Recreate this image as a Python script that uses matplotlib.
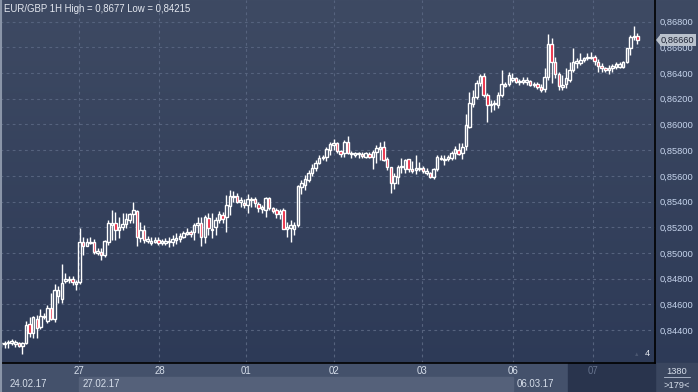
import numpy as np
import matplotlib
matplotlib.use("Agg")
import matplotlib.pyplot as plt
from matplotlib.colors import LinearSegmentedColormap
from matplotlib.patches import Polygon, Rectangle

plt.rcParams['font.family'] = ['Liberation Sans', 'DejaVu Sans']

# hourly EUR/GBP candles
opens = [
    0.84295, 0.84290, 0.84296, 0.84301, 0.84291, 0.84301, 0.84275, 0.84296, 0.84444, 0.84374,
    0.84483, 0.84421, 0.84500, 0.84473, 0.84574, 0.84483, 0.84665, 0.84644, 0.84785, 0.84790,
    0.84795, 0.84760, 0.84777, 0.85088, 0.85057, 0.85080, 0.85088, 0.85003, 0.85010, 0.84984,
    0.85088, 0.85218, 0.85231, 0.85179, 0.85200, 0.85226, 0.85257, 0.85304, 0.85330, 0.85114,
    0.85179, 0.85096, 0.85080, 0.85088, 0.85101, 0.85080, 0.85080, 0.85083, 0.85088, 0.85100,
    0.85106, 0.85126, 0.85147, 0.85165, 0.85165, 0.85217, 0.85235, 0.85126, 0.85274, 0.85178,
    0.85204, 0.85256, 0.85295, 0.85282, 0.85365, 0.85433, 0.85441, 0.85399, 0.85391, 0.85373,
    0.85412, 0.85417, 0.85381, 0.85339, 0.85334, 0.85425, 0.85347, 0.85334, 0.85303, 0.85334,
    0.85189, 0.85196, 0.85183, 0.85217, 0.85515, 0.85528, 0.85567, 0.85619, 0.85660, 0.85700,
    0.85740, 0.85749, 0.85801, 0.85840, 0.85853, 0.85791, 0.85775, 0.85866, 0.85767, 0.85765,
    0.85770, 0.85770, 0.85749, 0.85767, 0.85749, 0.85783, 0.85807, 0.85822, 0.85728, 0.85666,
    0.85542, 0.85591, 0.85666, 0.85651, 0.85728, 0.85651, 0.85643, 0.85653, 0.85661, 0.85625,
    0.85625, 0.85594, 0.85651, 0.85741, 0.85723, 0.85728, 0.85736, 0.85775, 0.85801, 0.85775,
    0.85832, 0.85983, 0.86159, 0.86216, 0.86325, 0.86377, 0.86229, 0.86151, 0.86166, 0.86151,
    0.86229, 0.86299, 0.86317, 0.86343, 0.86358, 0.86327, 0.86330, 0.86332, 0.86338, 0.86307,
    0.86312, 0.86294, 0.86273, 0.86371, 0.86623, 0.86483, 0.86390, 0.86294, 0.86317, 0.86345,
    0.86423, 0.86475, 0.86480, 0.86501, 0.86514, 0.86517, 0.86527, 0.86490, 0.86457, 0.86436,
    0.86421, 0.86436, 0.86449, 0.86449, 0.86449, 0.86488, 0.86592, 0.86683, 0.86691,
]
highs = [
    0.84310, 0.84315, 0.84322, 0.84327, 0.84322, 0.84310, 0.84310, 0.84470, 0.84504, 0.84510,
    0.84514, 0.84566, 0.84530, 0.84595, 0.84686, 0.84758, 0.84743, 0.84914, 0.84842, 0.84821,
    0.84821, 0.84790, 0.85192, 0.85127, 0.85114, 0.85127, 0.85106, 0.85036, 0.85036, 0.85101,
    0.85257, 0.85335, 0.85322, 0.85283, 0.85309, 0.85309, 0.85309, 0.85400, 0.85335, 0.85244,
    0.85218, 0.85132, 0.85127, 0.85122, 0.85122, 0.85106, 0.85113, 0.85126, 0.85139, 0.85157,
    0.85152, 0.85170, 0.85191, 0.85178, 0.85230, 0.85282, 0.85282, 0.85295, 0.85308, 0.85308,
    0.85282, 0.85329, 0.85321, 0.85450, 0.85489, 0.85484, 0.85463, 0.85438, 0.85417, 0.85458,
    0.85433, 0.85433, 0.85399, 0.85376, 0.85438, 0.85433, 0.85360, 0.85347, 0.85342, 0.85347,
    0.85243, 0.85256, 0.85243, 0.85528, 0.85567, 0.85606, 0.85645, 0.85690, 0.85720, 0.85760,
    0.85765, 0.85822, 0.85866, 0.85884, 0.85866, 0.85801, 0.85879, 0.85910, 0.85794, 0.85788,
    0.85785, 0.85788, 0.85788, 0.85788, 0.85801, 0.85840, 0.85866, 0.85871, 0.85749, 0.85671,
    0.85619, 0.85684, 0.85736, 0.85728, 0.85733, 0.85718, 0.85762, 0.85710, 0.85677, 0.85658,
    0.85632, 0.85658, 0.85759, 0.85762, 0.85759, 0.85759, 0.85796, 0.85832, 0.85853, 0.85853,
    0.86081, 0.86255, 0.86268, 0.86346, 0.86392, 0.86403, 0.86242, 0.86190, 0.86190, 0.86255,
    0.86423, 0.86332, 0.86405, 0.86397, 0.86371, 0.86353, 0.86371, 0.86371, 0.86346, 0.86332,
    0.86332, 0.86317, 0.86436, 0.86701, 0.86670, 0.86527, 0.86405, 0.86384, 0.86436, 0.86488,
    0.86592, 0.86514, 0.86558, 0.86527, 0.86553, 0.86566, 0.86540, 0.86506, 0.86475, 0.86449,
    0.86462, 0.86467, 0.86483, 0.86488, 0.86493, 0.86597, 0.86696, 0.86770, 0.86709,
]
lows = [
    0.84270, 0.84260, 0.84257, 0.84280, 0.84270, 0.84265, 0.84215, 0.84290, 0.84348, 0.84335,
    0.84335, 0.84405, 0.84483, 0.84457, 0.84478, 0.84465, 0.84613, 0.84608, 0.84764, 0.84764,
    0.84751, 0.84712, 0.84758, 0.84984, 0.85050, 0.85070, 0.84992, 0.84984, 0.84945, 0.84971,
    0.85060, 0.85101, 0.85101, 0.85114, 0.85179, 0.85192, 0.85231, 0.85231, 0.85050, 0.85088,
    0.85080, 0.85080, 0.85062, 0.85075, 0.85062, 0.85064, 0.85062, 0.85049, 0.85054, 0.85069,
    0.85088, 0.85113, 0.85139, 0.85126, 0.85100, 0.85152, 0.85054, 0.85080, 0.85139, 0.85113,
    0.85139, 0.85230, 0.85230, 0.85165, 0.85295, 0.85399, 0.85386, 0.85360, 0.85347, 0.85308,
    0.85360, 0.85360, 0.85321, 0.85308, 0.85282, 0.85334, 0.85308, 0.85269, 0.85266, 0.85183,
    0.85126, 0.85088, 0.85139, 0.85204, 0.85458, 0.85489, 0.85554, 0.85600, 0.85640, 0.85690,
    0.85723, 0.85718, 0.85762, 0.85801, 0.85781, 0.85749, 0.85749, 0.85770, 0.85739, 0.85747,
    0.85742, 0.85742, 0.85742, 0.85742, 0.85651, 0.85697, 0.85723, 0.85718, 0.85645, 0.85469,
    0.85495, 0.85537, 0.85619, 0.85619, 0.85632, 0.85625, 0.85614, 0.85638, 0.85625, 0.85607,
    0.85581, 0.85578, 0.85640, 0.85723, 0.85687, 0.85718, 0.85723, 0.85728, 0.85760, 0.85733,
    0.85801, 0.85975, 0.86138, 0.86195, 0.86299, 0.86216, 0.86021, 0.86099, 0.86112, 0.86125,
    0.86216, 0.86294, 0.86299, 0.86332, 0.86320, 0.86307, 0.86312, 0.86307, 0.86297, 0.86294,
    0.86273, 0.86255, 0.86255, 0.86346, 0.86320, 0.86358, 0.86268, 0.86268, 0.86281, 0.86332,
    0.86405, 0.86436, 0.86462, 0.86488, 0.86501, 0.86506, 0.86462, 0.86410, 0.86410, 0.86405,
    0.86390, 0.86410, 0.86431, 0.86436, 0.86436, 0.86475, 0.86540, 0.86657, 0.86623,
]
closes = [
    0.84300, 0.84300, 0.84309, 0.84314, 0.84309, 0.84275, 0.84301, 0.84439, 0.84379, 0.84504,
    0.84413, 0.84509, 0.84509, 0.84574, 0.84483, 0.84712, 0.84712, 0.84769, 0.84795, 0.84800,
    0.84771, 0.84775, 0.85088, 0.85057, 0.85083, 0.85088, 0.85010, 0.85018, 0.84984, 0.85096,
    0.85231, 0.85231, 0.85179, 0.85200, 0.85226, 0.85262, 0.85304, 0.85335, 0.85122, 0.85179,
    0.85101, 0.85106, 0.85096, 0.85101, 0.85075, 0.85093, 0.85095, 0.85093, 0.85108, 0.85113,
    0.85134, 0.85152, 0.85165, 0.85144, 0.85217, 0.85230, 0.85121, 0.85282, 0.85191, 0.85189,
    0.85256, 0.85300, 0.85266, 0.85373, 0.85443, 0.85441, 0.85399, 0.85410, 0.85370, 0.85417,
    0.85422, 0.85386, 0.85347, 0.85355, 0.85427, 0.85347, 0.85329, 0.85303, 0.85329, 0.85189,
    0.85198, 0.85217, 0.85217, 0.85520, 0.85541, 0.85573, 0.85619, 0.85660, 0.85700, 0.85740,
    0.85749, 0.85806, 0.85845, 0.85853, 0.85791, 0.85770, 0.85866, 0.85775, 0.85777, 0.85775,
    0.85775, 0.85752, 0.85775, 0.85749, 0.85783, 0.85814, 0.85822, 0.85723, 0.85666, 0.85542,
    0.85599, 0.85666, 0.85677, 0.85723, 0.85651, 0.85638, 0.85661, 0.85661, 0.85638, 0.85635,
    0.85594, 0.85651, 0.85749, 0.85728, 0.85733, 0.85749, 0.85780, 0.85806, 0.85770, 0.85827,
    0.85993, 0.86164, 0.86216, 0.86325, 0.86377, 0.86229, 0.86151, 0.86161, 0.86156, 0.86229,
    0.86312, 0.86317, 0.86384, 0.86358, 0.86332, 0.86338, 0.86343, 0.86343, 0.86307, 0.86315,
    0.86291, 0.86268, 0.86371, 0.86623, 0.86488, 0.86390, 0.86299, 0.86307, 0.86364, 0.86423,
    0.86490, 0.86496, 0.86501, 0.86514, 0.86522, 0.86527, 0.86493, 0.86455, 0.86436, 0.86421,
    0.86436, 0.86457, 0.86467, 0.86467, 0.86488, 0.86592, 0.86683, 0.86691, 0.86660,
]

day_labels = ['27', '28', '01', '02', '03', '06', '07']
day_ticks = [21.9, 44.3, 68.5, 93.2, 117.8, 143.3, 165.7]
price_ticks = [0.844, 0.846, 0.848, 0.850, 0.852, 0.854, 0.856, 0.858,
               0.860, 0.862, 0.864, 0.866, 0.868]
last_price = 0.86660

W, H = 698, 392
fig = plt.figure(figsize=(W / 100, H / 100), dpi=100)

def fx(px):
    return px / W

def fy(py):
    return 1 - py / H

# background gradient for the whole window
bg = fig.add_axes([0, 0, 1, 1])
grad = np.linspace(0, 1, 256).reshape(-1, 1)
cmap = LinearSegmentedColormap.from_list('bg', ['#3e4a63', '#2c3956'])
bg.imshow(grad, aspect='auto', cmap=cmap, extent=[0, 1, 0, 1], origin='upper')
bg.set_xlim(0, 1)
bg.set_ylim(0, 1)
bg.axis('off')

# bottom time strip
strip_h = fy(363)
bg.add_patch(Rectangle((0, 0), fx(655), strip_h, color='#44516b', zorder=2))
bg.add_patch(Rectangle((fx(79), fy(391)), fx(513 - 79), fy(377) - fy(391),
                       color='#55617a', zorder=3))
bg.add_patch(Rectangle((fx(568), 0), fx(655 - 568), strip_h,
                       color='#29344d', zorder=3))
bg.add_patch(Rectangle((fx(655), 0), fx(W - 655), strip_h,
                       color='#3a465f', zorder=2))

ax = fig.add_axes([0, 1 - 363 / H, 655 / W, 363 / H])
ax.set_facecolor('none')
n = len(closes)
x = np.arange(n)
o = np.array(opens)
c = np.array(closes)
hi = np.array(highs)
lo = np.array(lows)
top = np.maximum(o, c)
bot = np.minimum(o, c)
up = c >= o

ax.vlines(x, top, hi, color='white', linewidth=1.0, zorder=3)
ax.vlines(x, lo, bot, color='white', linewidth=1.0, zorder=3)
face = ['none' if u else '#e8102c' for u in up]
ax.bar(x, np.maximum(top - bot, 0.000015), bottom=bot, width=0.7,
       color=face, edgecolor='white', linewidth=1.0, zorder=4)

ax.set_xlim(-0.28, 182.9)
ax.set_ylim(0.84143, 0.86969)
ax.set_yticks(price_ticks)
ax.set_yticklabels([f"{p:.5f}".replace('.', ',') for p in price_ticks])
ax.yaxis.tick_right()
ax.tick_params(axis='y', length=0, pad=3, labelsize=6.7, labelcolor='#c6d4ec')
ax.set_xticks(day_ticks)
ax.set_xticklabels(day_labels)
ax.tick_params(axis='x', length=0, pad=2.5, labelsize=6.9, labelcolor='#d6deea')
ax.get_xticklabels()[-1].set_color('#66738d')
ax.grid(True, color='#56637e', linestyle=(0, (2.5, 3)), linewidth=0.8)
for s in ax.spines.values():
    s.set_visible(False)
ax.spines['right'].set_visible(True)
ax.spines['right'].set_color('black')
ax.spines['right'].set_linewidth(1.2)
ax.spines['bottom'].set_visible(True)
ax.spines['bottom'].set_color('black')
ax.spines['bottom'].set_linewidth(1.2)

fig.text(fx(4), fy(9), 'EUR/GBP 1H High = 0,8677 Low = 0,84215', fontsize=6.9,
         color='#e4e8f0', va='center', ha='left')

# current price marker
fig.text(fx(661), fy(40), f"{last_price:.5f}".replace('.', ','), fontsize=6.7,
         color='#1c2233', va='center', ha='left',
         bbox=dict(boxstyle='square,pad=0.15', fc='#b9c1cc', ec='none'))
fig.patches.append(Polygon([[fx(656), fy(40)], [fx(660), fy(35)], [fx(660), fy(45)]],
                           closed=True, fc='#b9c1cc', ec='none',
                           transform=fig.transFigure, figure=fig))

# lower date row
fig.text(fx(10), fy(384), '24.02.17', fontsize=6.9, color='#d6deea', va='center')
fig.text(fx(83), fy(384), '27.02.17', fontsize=6.9, color='#d6deea', va='center')
fig.text(fx(517), fy(384), '06.03.17', fontsize=6.9, color='#d6deea', va='center')

fig.text(fx(647), fy(354), '4', fontsize=6.7, color='#e4e8f0', va='center', ha='center')
fig.text(fx(637), fy(355), '\u25b2', fontsize=4, color='#4a5670', va='center', ha='center')

fig.text(fx(677), fy(371), '1380', fontsize=6.7, color='#d6deea', va='center', ha='center')
fig.text(fx(677), fy(385), '>179<', fontsize=6.7, color='#d6deea', va='center', ha='center')
fig.lines.append(plt.Line2D([fx(664), fx(690)], [fy(377), fy(377)], color='#b8c2d2',
                            linewidth=0.6, transform=fig.transFigure, figure=fig))
fig.lines.append(plt.Line2D([fx(1), fx(1)], [0, 1], color='#8a95a8',
                            linewidth=1.5, transform=fig.transFigure, figure=fig))

fig.savefig('out.png', dpi=100)
